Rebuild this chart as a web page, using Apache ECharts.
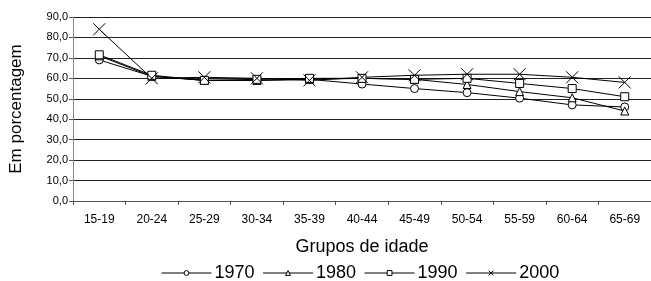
<!DOCTYPE html>
<html>
<head>
<meta charset="utf-8">
<script src="https://cdn.jsdelivr.net/npm/echarts@6/dist/echarts.min.js"></script>
<style>
  html, body { margin: 0; padding: 0; background: #fff; }
  #chart { width: 651px; height: 281px; }
</style>
</head>
<body>
<div id="chart"></div>
<script>
  // grupos de idade
  var categories = ['15-19', '20-24', '25-29', '30-34', '35-39', '40-44', '45-49', '50-54', '55-59', '60-64', '65-69'];

  // valores (%)
  var s1970 = [69.0, 61.0, 59.0, 59.0, 59.5, 57.2, 55.0, 53.0, 50.3, 47.0, 46.0];
  var s1980 = [71.0, 61.0, 59.0, 59.0, 59.5, 60.0, 59.5, 57.0, 53.5, 50.5, 44.0];
  var s1990 = [71.5, 61.5, 59.0, 59.5, 60.0, 60.0, 59.5, 60.0, 57.5, 55.0, 51.0];
  var s2000 = [84.0, 60.0, 60.5, 60.0, 59.0, 60.5, 61.5, 62.0, 62.0, 60.5, 58.0];

  var yTicks = { min: 0, max: 90, step: 10 };

  var crossPath = 'path://M0,0L10,10M10,0L0,10';
  var font = 'Liberation Sans, Arial, Helvetica, sans-serif';

  function serie(name, data, symbol, size) {
    return {
      name: name,
      type: 'line',
      data: data,
      symbol: symbol,
      symbolSize: size,
      showSymbol: true,
      lineStyle: { color: '#000', width: 1 },
      itemStyle: { color: '#fff', borderColor: '#000', borderWidth: 1 },
      emphasis: { disabled: true },
      animation: false
    };
  }

  var chart = echarts.init(document.getElementById('chart'));
  chart.setOption({
    animation: false,
    textStyle: { fontFamily: font },
    grid: { left: 72, top: 17, right: -4, bottom: 80 },
    legend: {
      top: 259,
      left: 156,
      itemWidth: 50,
      itemHeight: 6,
      itemGap: 8,
      itemStyle: { borderWidth: 1 },
      lineStyle: { width: 1 },
      textStyle: { fontFamily: font, fontSize: 18, color: '#000', padding: [0, 0, 0, -2] },
      data: ['1970', '1980', '1990', '2000']
    },
    xAxis: {
      type: 'category',
      data: categories,
      boundaryGap: true,
      name: 'Grupos de idade',
      nameLocation: 'middle',
      nameGap: 37,
      nameTextStyle: { fontFamily: font, fontSize: 18, color: '#000' },
      axisLine: { lineStyle: { color: '#555', width: 1 } },
      axisTick: { show: true, length: 4, lineStyle: { color: '#555' } },
      axisLabel: { fontFamily: font, fontSize: 12, color: '#000', margin: 13, interval: 0 }
    },
    yAxis: {
      type: 'value',
      min: yTicks.min,
      max: yTicks.max,
      interval: yTicks.step,
      name: 'Em porcentagem',
      nameLocation: 'middle',
      nameGap: 48,
      nameTextStyle: { fontFamily: font, fontSize: 17, color: '#000' },
      axisLine: { show: true, lineStyle: { color: '#888', width: 1 } },
      axisTick: { show: true, length: 4, lineStyle: { color: '#555' } },
      axisLabel: {
        fontFamily: font, fontSize: 11, color: '#000', margin: 5,
        formatter: function (v) { return v.toFixed(1).replace('.', ','); }
      },
      splitLine: { show: true, lineStyle: { color: '#222', width: 1 } }
    },
    series: [
      serie('1970', s1970, 'circle', 8),
      serie('1980', s1980, 'triangle', 8),
      serie('1990', s1990, 'rect', 8),
      serie('2000', s2000, crossPath, 12)
    ]
  });
</script>
</body>
</html>
